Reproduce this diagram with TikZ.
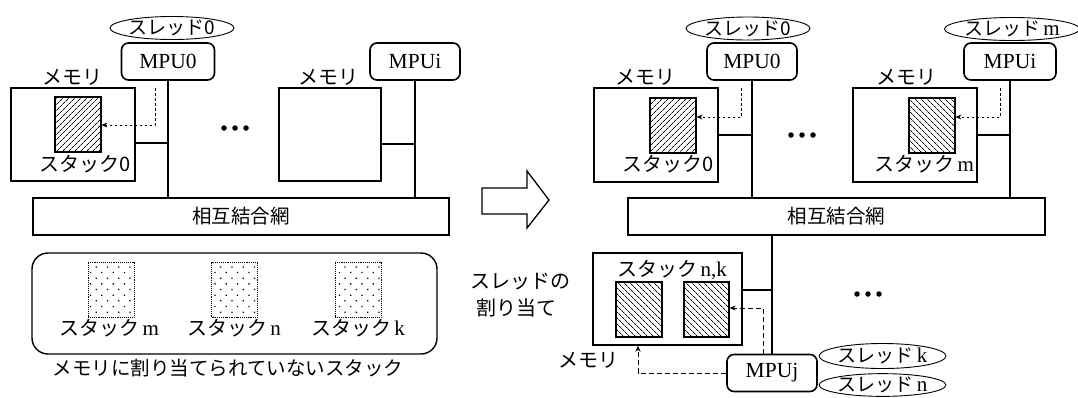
\documentclass[tikz,border=0pt]{standalone}
\usepackage{fontspec}
\setmainfont{Liberation Serif}
\newfontfamily\jp{Noto Sans CJK JP}
\newcommand\latl[1]{\,{\rmfamily\fontsize{21}{21}\selectfont #1}}
\usetikzlibrary{patterns.meta,arrows.meta,shapes.geometric,calc}
\begin{document}
\begin{tikzpicture}[x=1pt,y=-1pt,
  box/.style={draw,line width=1.5pt,inner sep=0pt},
  mpubox/.style={draw,line width=1.6pt,rounded corners=7pt,minimum width=90pt,minimum height=37pt,inner sep=0pt,font=\fontsize{21.5}{21.5}\selectfont},
  thr/.style={draw,ellipse,line width=0.9pt,minimum width=124pt,minimum height=23pt,inner sep=0pt,font=\jp\fontsize{19}{19}\selectfont},
  hatchR/.style={draw,line width=1.2pt,minimum width=46pt,minimum height=55pt,inner sep=0pt,pattern={Lines[angle=45,distance=4pt,line width=0.7pt]}},
  hatchL/.style={draw,line width=1.2pt,minimum width=46pt,minimum height=55pt,inner sep=0pt,pattern={Lines[angle=-45,distance=4pt,line width=0.7pt]}},
  dotstack/.style={draw,densely dotted,line width=0.9pt,minimum width=46pt,minimum height=55pt,inner sep=0pt,pattern={Dots[distance=8pt,radius=0.9pt,angle=45]}},
  lab/.style={font=\jp\fontsize{20}{20}\selectfont,inner sep=0pt},
  wire/.style={line width=1.5pt},
  dotl/.style={line width=0.9pt,dash pattern=on 2.5pt off 2.5pt,-{Stealth[length=6pt,width=5pt]}},
  dashl/.style={line width=0.9pt,dash pattern=on 5pt off 3pt,-{Stealth[length=6pt,width=5pt]}},
  bullet/.style={circle,fill,inner sep=0pt,minimum size=5.5pt}
]
\useasboundingbox (0,0) rectangle (1078,397);

% ---------------- left half ----------------
\node[thr] (thr0L) at (172,28) {スレッド0};
\node[mpubox,minimum width=93pt] (mpu0L) at (168,61.5) {MPU0};
\node[box,minimum width=124pt,minimum height=93pt] (memL1) at (73,134.5) {};
\node[hatchR] (stk0L) at (78,124.5) {};
\node[lab] (memlabL1) at (72,77) {メモリ};
\node[lab] (stklabL0) at (85,164) {スタック0};
\node[box,minimum width=102pt,minimum height=93pt] (memL2) at (330,134.5) {};
\node[lab] (memlabL2) at (328,77) {メモリ};
\node[mpubox] (mpuiL) at (415,61.5) {MPUi};
\node[box,minimum width=416pt,minimum height=37pt,font=\jp\fontsize{19.5}{19.5}\selectfont] (busL) at (241,216.5) {相互結合網};
\node[bullet] (b1L) at (224,128) {};
\node[bullet] (b2L) at (235,128) {};
\node[bullet] (b3L) at (246,128) {};

\draw[wire] (mpu0L.south) -- (mpu0L.south |- busL.north);
\draw[wire] (mpuiL.south) -- (mpuiL.south |- busL.north);
\draw[wire] (memL1.east |- 0,143) -- (mpu0L.south |- 0,143);
\draw[wire] (memL2.east |- 0,144) -- (mpuiL.south |- 0,144);
\coordinate (dL) at (155,88);
\draw[dotl] (dL) |- (stk0L.east |- 0,125);

% unallocated stacks
\node[draw,line width=1.4pt,rounded corners=16pt,minimum width=405pt,minimum height=101pt] (unal) at (234.5,303.5) {};
\node[dotstack] (sm) at (111,289.5) {};
\node[dotstack] (sn) at (234.5,289.5) {};
\node[dotstack] (sk) at (358,289.5) {};
\node[lab] (lsm) at (109,328) {スタック\latl{m}};
\node[lab] (lsn) at (234,328) {スタック\latl{n}};
\node[lab] (lsk) at (358,328) {スタック\latl{k}};
\node[lab,font=\jp\fontsize{19.5}{19.5}\selectfont] (cap) at (228,368) {メモリに割り当てられていないスタック};

% big arrow
\draw[line width=1.3pt] (482,188) -- (527,188) -- (527,171) -- (549,200) -- (527,228) -- (527,214) -- (482,214) -- cycle;
\node[lab] (assign1) at (520,282) {スレッドの};
\node[lab] (assign2) at (516,308) {割り当て};

% ---------------- right half ----------------
\node[thr] (thr0R) at (748,28.5) {スレッド0};
\node[mpubox] (mpu0R) at (752,61.5) {MPU0};
\node[box,minimum width=124pt,minimum height=94pt] (memR1) at (656,135) {};
\node[hatchR] (stk0R) at (673,125.5) {};
\node[lab] (memlabR1) at (645,77) {メモリ};
\node[lab] (stklabR0) at (668,164) {スタック0};
\node[bullet] (b1R) at (791,135) {};
\node[bullet] (b2R) at (802,135) {};
\node[bullet] (b3R) at (813,135) {};

\node[box,minimum width=124pt,minimum height=94pt] (memR2) at (915,135) {};
\node[hatchL] (stkmR) at (932,125.5) {};
\node[lab] (memlabR2) at (906,77) {メモリ};
\node[lab] (stklabRm) at (924,164) {スタック\latl{m}};
\node[mpubox,minimum width=92pt] (mpuiR) at (1010,61.5) {MPUi};
\node[thr,minimum width=126pt] (thrmR) at (1012,29) {スレッド\latl{m}};

\node[box,minimum width=417pt,minimum height=37pt,font=\jp\fontsize{19.5}{19.5}\selectfont] (busR) at (836.5,216.5) {相互結合網};

\draw[wire] (mpu0R.south) -- (mpu0R.south |- busR.north);
\draw[wire] (mpuiR.south) -- (mpuiR.south |- busR.north);
\draw[wire] (memR1.east |- 0,135) -- (mpu0R.south |- 0,135);
\draw[wire] (memR2.east |- 0,135) -- (mpuiR.south |- 0,135);
\coordinate (dR1) at (741,88);
\draw[dotl] (dR1) |- (stk0R.east |- 0,117);
\coordinate (dR2) at (1000,88);
\draw[dotl] (dR2) |- (stkmR.east |- 0,117);

% memory j
\node[box,minimum width=149pt,minimum height=92pt] (memj) at (667.5,299) {};
\node[hatchL] (stkn) at (639,309.5) {};
\node[hatchL,minimum width=45pt] (stkk) at (706.5,309.5) {};
\node[lab] (lnk) at (672,270) {スタック\latl{n,k}};
\node[lab] (memlabj) at (588,360) {メモリ};
\node[mpubox] (mpuj) at (772,373) {MPUj};
\node[thr,minimum width=125pt,minimum height=25pt] (thrk) at (882.5,356) {スレッド\latl{k}};
\node[thr,minimum width=125pt,minimum height=22pt] (thrn) at (882.5,385) {スレッド\latl{n}};
\node[bullet] (b1j) at (857,294) {};
\node[bullet] (b2j) at (868,294) {};
\node[bullet] (b3j) at (879,294) {};

\draw[wire] (busR.south -| mpuj.north) -- (mpuj.north);
\draw[wire] (memj.east |- 0,290) -- (mpuj.north |- 0,290);
\coordinate (dj) at ($(mpuj.north)+(-9,0)$);
\draw[dashl] (dj) |- (stkk.east |- 0,308);
\draw[dashl] (mpuj.west) -| (memj.south -| 638,0);
\end{tikzpicture}
\end{document}
